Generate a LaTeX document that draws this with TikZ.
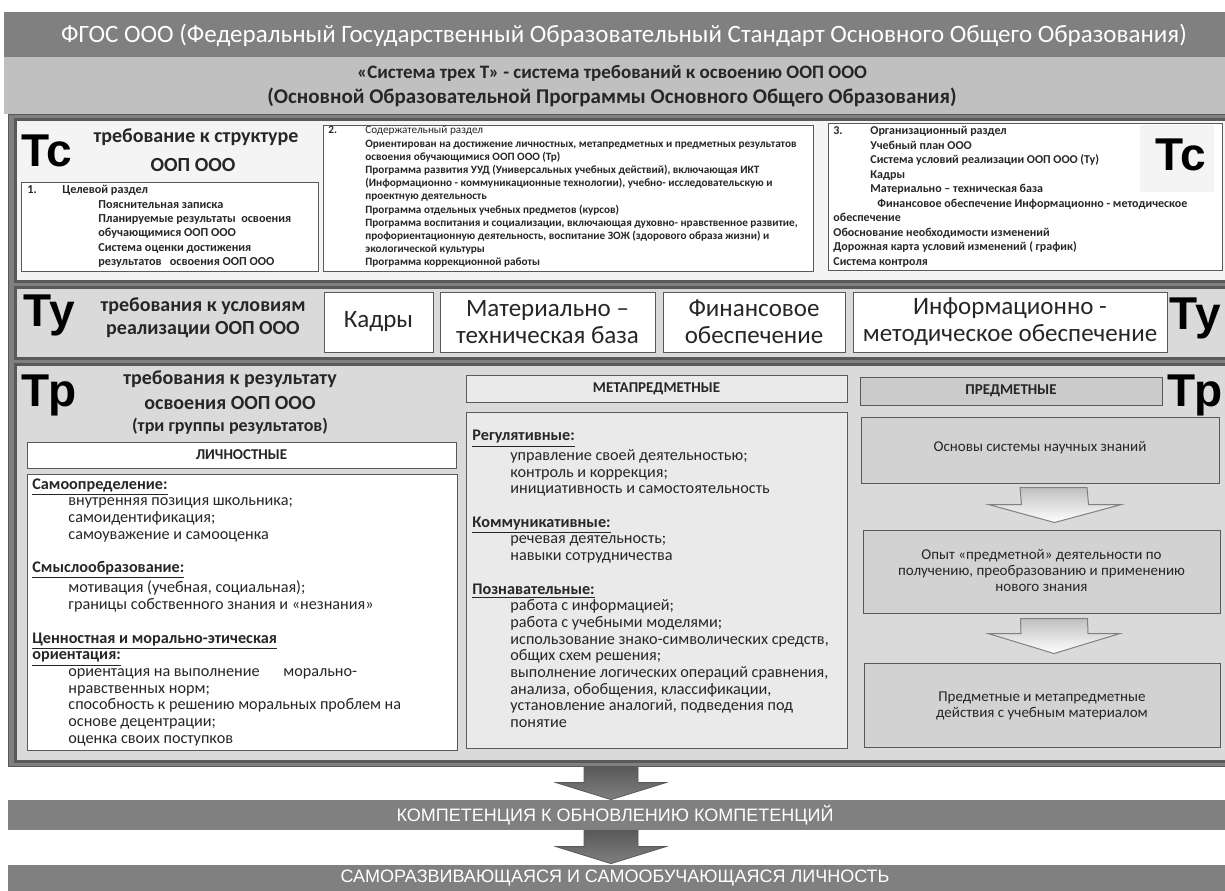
\documentclass[tikz,border=0pt]{standalone}
\usepackage{fontspec}
\setmainfont{Carlito}
\newfontfamily\arialfont{Liberation Sans}
\usetikzlibrary{fit,calc}
\definecolor{bk90}{HTML}{262626}
\definecolor{bk75}{HTML}{595959}
\definecolor{bk60}{HTML}{6B6B6B}
\definecolor{bk50}{HTML}{808080}
\definecolor{bk25}{HTML}{C0C0C0}
\definecolor{bk20}{HTML}{CBCBCB}
\definecolor{bk17}{HTML}{D2D2D2}
\definecolor{bk15}{HTML}{DADADA}
\definecolor{bk8}{HTML}{EAEAEA}
\definecolor{bk4}{HTML}{F4F4F4}
\tikzset{
  band/.style={rectangle, fill=#1, draw=none, inner sep=0pt},
  band/.default=bk50,
  panel/.style={rectangle, draw=bk75, line width=1.5pt, fill=#1, inner sep=0pt},
  panel/.default=bk15,
  itembox/.style={rectangle, draw=bk75, line width=0.5pt, fill=#1, inner sep=0pt},
  itembox/.default=white,
  boxlabel/.style={align=center, inner sep=0pt, text=bk90},
  bigletter/.style={font=\arialfont\bfseries\fontsize{23}{23}\selectfont,
    inner sep=0pt, text=black},
  headtext/.style={font=\bfseries\fontsize{10}{12.5}\selectfont,
    align=center, inner sep=0pt, text=bk90},
  listtext/.style={anchor=north west, inner sep=0pt, align=left, text=bk90},
  bodytext/.style={anchor=north west, inner sep=0pt, align=left, text=bk90,
    font=\fontsize{8.1}{8.35}\selectfont},
  capstext/.style={inner sep=0pt, text=white, font=\arialfont\fontsize{9}{9}\selectfont},
  blockarrow/.style={draw=bk75, line width=0.4pt, top color=bk75, bottom color=bk50},
  softarrow/.style={draw=bk50, line width=0.5pt, top color=bk25, bottom color=white},
}

\begin{document}
\begin{tikzpicture}[x=0.5pt, y=-0.5pt]
\useasboundingbox (0,0) rectangle (1225,890);
\clip (0,0) rectangle (1225,890);

% Header bands
\node[band=bk50, fit={(4,12) (1232,57)}] (fgos) {};
\node[inner sep=0pt, text=white, font=\fontsize{12.5}{12.5}\selectfont] (fgos-txt) at (624,35)
  {ФГОС ООО (Федеральный Государственный Образовательный Стандарт Основного Общего Образования)};
\node[band=bk25, fit={(4,57) (1232,114)}] (three-t) {};
\node[headtext, font=\bfseries\fontsize{9.5}{11}\selectfont] (three-t-l1) at (612,73) {«Система трех Т» - система требований к освоению ООП ООО};
\node[headtext, font=\bfseries\fontsize{10.5}{12}\selectfont] (three-t-l2) at (612,97) {(Основной Образовательной Программы Основного Общего Образования)};

% Frame and sections
\node[band=bk50, draw=bk75, fit={(8,114) (1232,766)}] (frame) {};
\node[panel=bk4, fit={(15,119) (1236,281)}] (tc) {};
\node[panel=bk15, fit={(15,287) (1236,358)}] (ty) {};
\node[panel=bk15, fit={(15,364) (1236,761)}] (tp) {};

% Tc
\node[bigletter] (tc-l) at (47,151) {Тс};
\node[headtext] (tc-title-l1) at (196,137) {требование к структуре};
\node[headtext] (tc-title-l2) at (193,165) {ООП ООО};
\node[itembox, fit={(21,182) (318,271)}] (tc-goal) {};
\node[listtext, font=\bfseries\fontsize{6.1}{7.2}\selectfont] (tc-goal-txt) at (27,185)
  {\makebox[17.5pt][l]{1.}Целевой раздел\\
   \hspace*{35.5pt}Пояснительная записка\\
   \hspace*{35.5pt}Планируемые результаты\ \ освоения\\
   \hspace*{35.5pt}обучающимися ООП ООО\\
   \hspace*{35.5pt}Система оценки достижения\\
   \hspace*{35.5pt}результатов\ \ \ освоения ООП ООО};
\node[itembox, fit={(323,125) (813,271)}] (tc-content) {};
\node[listtext, font=\bfseries\fontsize{5.6}{6.6}\selectfont] (tc-content-num) at (328,126) {2.};
\node[listtext, font=\bfseries\fontsize{5.6}{6.6}\selectfont] (tc-content-txt) at (365,126)
  {{\mdseries Содержательный раздел}\\
   Ориентирован на достижение личностных, метапредметных и предметных результатов\\
   освоения обучающимися ООП ООО (Тр)\\
   Программа развития УУД (Универсальных учебных действий), включающая ИКТ\\
   (Информационно - коммуникационные технологии), учебно- исследовательскую и\\
   проектную деятельность\\
   Программа отдельных учебных предметов (курсов)\\
   Программа воспитания и социализации, включающая духовно- нравственное развитие,\\
   профориентационную деятельность, воспитание ЗОЖ (здорового образа жизни) и\\
   экологической культуры\\
   Программа коррекционной работы};
\node[itembox, fit={(828,123) (1222,270)}] (tc-org) {};
\node[band=bk4, fit={(1140,125) (1214,192)}] (tc-r-back) {};
\node[bigletter] (tc-r) at (1181,155) {Тс};
\node[listtext, font=\bfseries\fontsize{6}{7.25}\selectfont] (tc-org-txt) at (833,126)
  {\makebox[18.5pt][l]{3.}Организационный раздел\\
   \hspace*{18.5pt}Учебный план ООО\\
   \hspace*{18.5pt}Система условий реализации ООП ООО (Ту)\\
   \hspace*{18.5pt}Кадры\\
   \hspace*{18.5pt}Материально – техническая база\\
   \hspace*{22pt}Финансовое обеспечение Информационно - методическое\\
   обеспечение\\
   Обоснование необходимости изменений\\
   Дорожная карта условий изменений ( график)\\
   Система контроля};

% Ty
\node[bigletter] (ty-l) at (49,315) {Ту};
\node[headtext, font=\bfseries\fontsize{10}{11.5}\selectfont] (ty-title) at (203,318) {требования к условиям\\реализации ООП ООО};
\node[itembox, fit={(324,292) (433,352)}] (ty-staff) {};
\node[itembox, fit={(440,292) (655,352)}] (ty-base) {};
\node[itembox, fit={(663,292) (845,352)}] (ty-fin) {};
\node[itembox, fit={(853,292) (1167,352)}] (ty-info) {};
\node[boxlabel, font=\fontsize{12.5}{13.5}\selectfont] (ty-staff-txt) at (ty-staff.center) {Кадры};
\node[boxlabel, font=\fontsize{12.5}{13.5}\selectfont] (ty-base-txt) at (ty-base.center) {Материально –\\техническая база};
\node[boxlabel, font=\fontsize{12.5}{13.5}\selectfont] (ty-fin-txt) at (ty-fin.center) {Финансовое\\обеспечение};
\node[boxlabel, font=\fontsize{12.5}{13.5}\selectfont] (ty-info-txt) at (ty-info.center) {Информационно -\\методическое обеспечение};
\node[bigletter] (ty-r) at (1195,318) {Ту};

% Tp
\node[bigletter] (tp-l) at (49,395) {Тр};
\node[headtext] (tp-title) at (230,403) {требования к результату\\освоения ООП ООО\\[-1.5pt]{\fontsize{9}{10}\selectfont(три группы результатов)}};
\node[bigletter] (tp-r) at (1195,395) {Тр};

% personal results
\node[itembox, fit={(27,442) (456,468)}] (lich-head) {};
\node[boxlabel, font=\bfseries\fontsize{7.5}{8}\selectfont] (lich-head-txt) at (lich-head.center) {ЛИЧНОСТНЫЕ};
\node[itembox, fit={(27,474) (457,750)}] (lich-box) {};
\node[bodytext] (lich-txt) at (32,478)
  {\textbf{\underline{Самоопределение:}}\\
   \hspace*{18pt}внутренняя позиция школьника;\\
   \hspace*{18pt}самоидентификация;\\
   \hspace*{18pt}самоуважение и самооценка\\[8.35pt]
   \textbf{\underline{Смыслообразование:}}\\
   \hspace*{18pt}мотивация (учебная, социальная);\\
   \hspace*{18pt}границы собственного знания и «незнания»\\[8.35pt]
   \textbf{\underline{Ценностная и морально-этическая}}\\
   \textbf{\underline{ориентация:}}\\
   \hspace*{18pt}ориентация на выполнение\hspace{10pt} морально-\\
   \hspace*{18pt}нравственных норм;\\
   \hspace*{18pt}способность к решению моральных проблем на\\
   \hspace*{18pt}основе децентрации;\\
   \hspace*{18pt}оценка своих поступков};

% meta results
\node[itembox=bk8, fit={(466,375) (847,402)}] (meta-head) {};
\node[boxlabel, font=\bfseries\fontsize{7.5}{8}\selectfont] (meta-head-txt) at (meta-head.center) {МЕТАПРЕДМЕТНЫЕ};
\node[itembox=bk8, fit={(466,412) (847,748)}] (meta-box) {};
\node[bodytext] (meta-txt) at (472,430)
  {\textbf{\underline{Регулятивные:}}\\
   \hspace*{19pt}управление своей деятельностью;\\
   \hspace*{19pt}контроль и коррекция;\\
   \hspace*{19pt}инициативность и самостоятельность\\[8.35pt]
   \textbf{\underline{Коммуникативные:}}\\
   \hspace*{19pt}речевая деятельность;\\
   \hspace*{19pt}навыки сотрудничества\\[8.35pt]
   \textbf{\underline{Познавательные:}}\\
   \hspace*{19pt}работа с информацией;\\
   \hspace*{19pt}работа с учебными моделями;\\
   \hspace*{19pt}использование знако-символических средств,\\
   \hspace*{19pt}общих схем решения;\\
   \hspace*{19pt}выполнение логических операций сравнения,\\
   \hspace*{19pt}анализа, обобщения, классификации,\\
   \hspace*{19pt}установление аналогий, подведения под\\
   \hspace*{19pt}понятие};

% subject results
\node[itembox=bk20, fit={(860,377) (1162,405)}] (pr-head) {};
\node[boxlabel, font=\bfseries\fontsize{7.5}{8}\selectfont] (pr-head-txt) at (pr-head.center) {ПРЕДМЕТНЫЕ};
\node[itembox=bk17, fit={(861,417) (1219,483)}] (pr1) {};
\node[itembox=bk17, fit={(863,530) (1220,613)}] (pr2) {};
\node[itembox=bk17, fit={(864,663) (1220,747)}] (pr3) {};
\node[boxlabel, font=\fontsize{7.5}{8.2}\selectfont] (pr1-txt) at ($(pr1.center)+(0,-2)$) {Основы системы научных знаний};
\node[boxlabel, font=\fontsize{7.5}{8.2}\selectfont] (pr2-txt) at ($(pr2.center)+(0,-1)$) {Опыт «предметной» деятельности по\\получению, преобразованию и применению\\нового знания};
\node[boxlabel, font=\fontsize{7.5}{8.2}\selectfont] (pr3-txt) at ($(pr3.center)+(0,1)$) {Предметные и метапредметные\\действия с учебным материалом};
\draw[softarrow] ($(pr1.south)+(-20,4)$) -- ($(pr1.south)+(47,4)$) -- ($(pr2.north)+(47,-25)$)
  -- ($(pr2.north)+(80,-25)$) -- ($(pr2.north)+(13,-7)$) -- ($(pr2.north)+(-53,-25)$)
  -- ($(pr2.north)+(-20,-25)$) -- cycle;
\draw[softarrow] ($(pr2.south)+(-21,5)$) -- ($(pr2.south)+(46,5)$) -- ($(pr3.north)+(46,-29)$)
  -- ($(pr3.north)+(78,-29)$) -- ($(pr3.north)+(12,-9)$) -- ($(pr3.north)+(-54,-29)$)
  -- ($(pr3.north)+(-21,-29)$) -- cycle;

% Outcome bands
\node[band=bk50, fit={(8,800) (1232,830)}] (competence) {};
\node[band=bk50, fit={(8,865) (1232,895)}] (person) {};
\node[capstext] (competence-txt) at ($(competence.center)+(-5,0)$) {КОМПЕТЕНЦИЯ К ОБНОВЛЕНИЮ КОМПЕТЕНЦИЙ};
\node[capstext] (person-txt) at ($(person.center)+(-5,-2)$) {САМОРАЗВИВАЮЩАЯСЯ И САМООБУЧАЮЩАЯСЯ ЛИЧНОСТЬ};
\draw[blockarrow] ($(frame.south)+(-36,1)$) -- ($(frame.south)+(18,1)$) -- ($(competence.north)+(18,-17)$)
  -- ($(competence.north)+(46,-17)$) -- ($(competence.north)+(-9,0)$) -- ($(competence.north)+(-64,-17)$)
  -- ($(competence.north)+(-36,-17)$) -- cycle;
\draw[blockarrow] ($(competence.south)+(-36,0)$) -- ($(competence.south)+(18,0)$) -- ($(person.north)+(18,-18)$)
  -- ($(person.north)+(46,-18)$) -- ($(person.north)+(-9,-1)$) -- ($(person.north)+(-64,-18)$)
  -- ($(person.north)+(-36,-18)$) -- cycle;
\end{tikzpicture}
\end{document}
